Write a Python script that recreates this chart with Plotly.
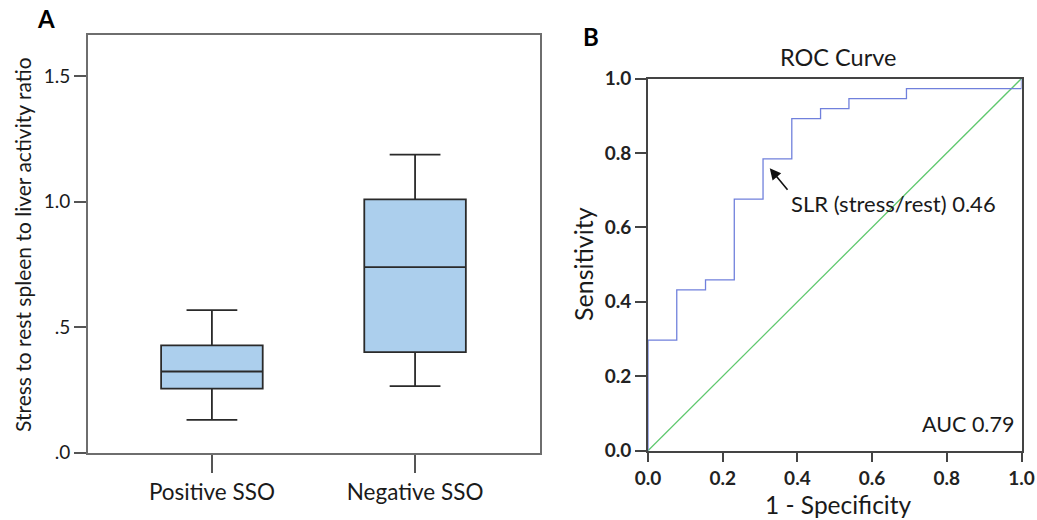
import plotly.graph_objects as go

# ---- Panel A data (box plot summary) ----
categories = ["Positive SSO", "Negative SSO"]
q1 = [0.255, 0.400]
median = [0.323, 0.739]
q3 = [0.427, 1.009]
lowerfence = [0.130, 0.265]
upperfence = [0.568, 1.188]
a_yticks = [0.0, 0.5, 1.0, 1.5]
a_yticklabels = [".0", ".5", "1.0", "1.5"]

# ---- Panel B data (ROC curve) ----
fpr = [0.0, 0.0, 0.077, 0.154, 0.231, 0.308, 0.385, 0.462, 0.538, 0.692, 1.0]
tpr = [0.0, 0.297, 0.432, 0.459, 0.676, 0.784, 0.892, 0.919, 0.946, 0.973, 1.0]
ref_line = [0.0, 1.0]
b_ticks = [0.0, 0.2, 0.4, 0.6, 0.8, 1.0]

FONT = "Lato, 'Open Sans', sans-serif"
W, H = 1037, 520

fig = go.Figure()

fig.add_trace(go.Box(
    x=categories, q1=q1, median=median, q3=q3,
    lowerfence=lowerfence, upperfence=upperfence,
    fillcolor="rgb(172,207,237)", line=dict(color="#2a2a2a", width=1.8),
    width=0.5, whiskerwidth=0.5, boxpoints=False, hoverinfo="skip",
    xaxis="x", yaxis="y", showlegend=False,
))

fig.add_trace(go.Scatter(
    x=ref_line, y=ref_line, mode="lines",
    line=dict(color="rgb(95,200,110)", width=1.3),
    xaxis="x2", yaxis="y2", showlegend=False, hoverinfo="skip",
))
fig.add_trace(go.Scatter(
    x=fpr, y=tpr, mode="lines", line_shape="hv",
    line=dict(color="rgb(112,128,220)", width=1.3),
    xaxis="x2", yaxis="y2", showlegend=False, hoverinfo="skip",
))

def px_x(p):
    return p / W

def px_y(p):
    return 1 - p / H

fig.update_layout(
    width=W, height=H,
    margin=dict(l=0, r=0, t=0, b=0, autoexpand=False),
    paper_bgcolor="white", plot_bgcolor="white",
    font=dict(family=FONT, size=18, color="#1a1a1a"),
    xaxis=dict(
        domain=[px_x(88), px_x(540)], range=[-0.61, 1.615],
        type="category", categoryorder="array", categoryarray=categories,
        showline=True, mirror=True, linecolor="#6e6e6e", linewidth=2,
        ticks="outside", ticklen=18, tickwidth=2, tickcolor="#555",
        showgrid=False, zeroline=False, tickfont=dict(size=22.5),
        anchor="y", fixedrange=True, automargin=False,
    ),
    yaxis=dict(
        domain=[px_y(452.5), px_y(34.7)], range=[0, 1.666],
        tickvals=a_yticks, ticktext=a_yticklabels,
        showline=True, mirror=True, linecolor="#6e6e6e", linewidth=2,
        ticks="outside", ticklen=12, tickwidth=2, tickcolor="#555",
        showgrid=False, zeroline=False, tickfont=dict(size=19),
        anchor="x", fixedrange=True, automargin=False,
    ),
    xaxis2=dict(
        domain=[px_x(648), px_x(1021.5)], range=[0, 1],
        tickvals=b_ticks, tickformat=".1f",
        showline=True, mirror=True, linecolor="#444", linewidth=2,
        ticks="outside", ticklen=9, tickwidth=2, tickcolor="#444",
        showgrid=False, zeroline=False,
        tickfont=dict(size=19, weight="bold", color="#222"),
        anchor="y2", fixedrange=True, automargin=False,
    ),
    yaxis2=dict(
        domain=[px_y(450.7), px_y(78.5)], range=[0, 1],
        tickvals=b_ticks, tickformat=".1f",
        showline=True, mirror=True, linecolor="#444", linewidth=2,
        ticks="outside", ticklen=11, tickwidth=2, tickcolor="#444",
        showgrid=False, zeroline=False,
        tickfont=dict(size=19, weight="bold", color="#222"),
        anchor="x2", fixedrange=True, automargin=False,
    ),
)

ann = []
# Panel labels
ann.append(dict(text="<b>A</b>", x=px_x(46), y=px_y(18.5), xref="paper", yref="paper",
                showarrow=False, font=dict(size=24, color="black"), xanchor="center", yanchor="middle"))
ann.append(dict(text="<b>B</b>", x=px_x(591), y=px_y(36.5), xref="paper", yref="paper",
                showarrow=False, font=dict(size=24, color="black"), xanchor="center", yanchor="middle"))
# Panel A y title
ann.append(dict(text="Stress to rest spleen to liver activity ratio", x=px_x(22.5), y=px_y(244.5),
                xref="paper", yref="paper", showarrow=False, textangle=-90,
                font=dict(size=21), xanchor="center", yanchor="middle"))
# Panel B titles
ann.append(dict(text="ROC Curve", x=px_x(837.5), y=px_y(57), xref="paper", yref="paper",
                showarrow=False, font=dict(size=23.5), xanchor="center", yanchor="middle"))
ann.append(dict(text="1 - Specificity", x=px_x(838.5), y=px_y(504), xref="paper", yref="paper",
                showarrow=False, font=dict(size=24.5), xanchor="center", yanchor="middle"))
ann.append(dict(text="Sensitivity", x=px_x(583), y=px_y(264), xref="paper", yref="paper",
                showarrow=False, textangle=-90, font=dict(size=25), xanchor="center", yanchor="middle"))
# ROC annotations
ann.append(dict(text="", x=0.326, y=0.759, xref="x2", yref="y2", showarrow=True,
                ax=19, ay=23, arrowhead=2, arrowsize=1.4, arrowwidth=1.6, arrowcolor="#111"))
ann.append(dict(text="SLR (stress/rest) 0.46", x=0.377, y=0.663, xref="x2", yref="y2",
                showarrow=False, font=dict(size=22), xanchor="left", yanchor="middle"))
ann.append(dict(text="AUC 0.79", x=0.985, y=0.072, xref="x2", yref="y2",
                showarrow=False, font=dict(size=21.5), xanchor="right", yanchor="middle"))
fig.update_layout(annotations=ann)

fig.write_html("out.html", config={"displayModeBar": False},
               post_script="document.body.style.margin='0';document.body.style.padding='0';")
